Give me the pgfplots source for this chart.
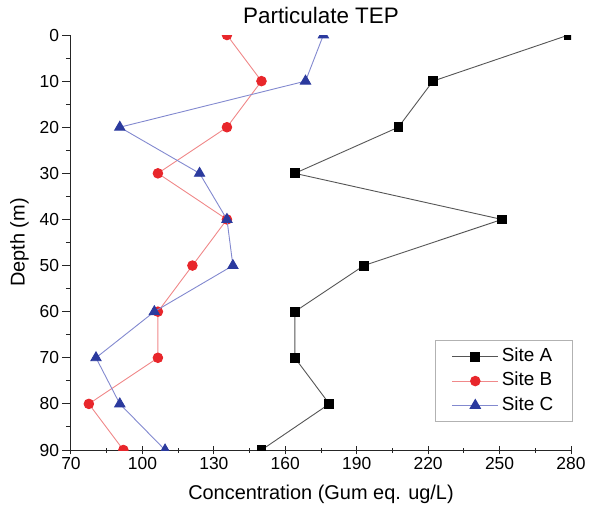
\documentclass[border=0pt]{standalone}
\usepackage{fontspec}
\setmainfont{Liberation Sans}
\usepackage{pgfplots}
\usepackage{pgfplotstable}
\pgfplotsset{compat=1.18}

\definecolor{siteAline}{HTML}{555555}
\definecolor{siteBmark}{HTML}{E8262B}
\definecolor{siteBline}{HTML}{F0898A}
\definecolor{siteCmark}{HTML}{2B3A9E}
\definecolor{siteCline}{HTML}{8289CF}

% Particulate TEP concentration profiles (Gum eq. ug/L) against depth (m)
\pgfplotstableread{
depth A     B     C
0     279   135.5 176
10    222   150   168.5
20    207.5 135.5 90.5
30    164   106.5 124
40    251   135.5 135.5
50    193   121   138
60    164   106.5 105
70    164   106.5 80.5
80    178.5 77.5  90.5
90    150   92    109.5
}\tep

\begin{document}
\begin{tikzpicture}
\useasboundingbox (-71bp,-59bp) rectangle (520bp,450bp);
\begin{axis}[
  at={(0,0)}, anchor=south west,
  scale only axis, width=500bp, height=415bp,
  xmin=70, xmax=280, ymin=0, ymax=90, y dir=reverse,
  axis x line=bottom, axis y line=left,
  axis line style={-, line width=1bp, black!85},
  xtick={70,100,...,280}, minor x tick num=1,
  ytick={0,10,...,90}, minor y tick num=1,
  xtick align=center, ytick align=outside,
  major tick length=8.5bp, minor tick length=5bp,
  every tick/.style={line width=1bp, black!85},
  /pgf/number format/assume math mode=true,
  ticklabel style={font=\fontsize{17.5}{17.5}\selectfont},
  clip marker paths=true,
  title={Particulate TEP},
  title style={font=\fontsize{22.5}{22.5}\selectfont, at={(axis description cs:0.5,1)}, anchor=base, yshift=5.7bp},
  xlabel={Concentration (Gum eq. ug/L)},
  xlabel style={font=\fontsize{20}{20}\selectfont, at={(axis description cs:0.5,0)}, anchor=base, yshift=-49.3bp},
  ylabel={Depth (m)},
  ylabel style={font=\fontsize{20}{20}\selectfont, at={(axis description cs:0,0.5)}, anchor=center, yshift=51.5bp},
  legend style={at={(axis description cs:1,0)}, anchor=south east, xshift=1.7bp, yshift=28bp,
    draw=gray!60, line width=0.8bp, inner xsep=16bp, inner ysep=4.5bp,
    font=\fontsize{19}{19}\selectfont,
    nodes={inner sep=3bp, text height=13.5bp, text depth=4bp},
    row sep=0.8bp},
  legend cell align=left,
  legend image code/.code={\draw[mark repeat=2, mark phase=2, #1] plot coordinates {(0bp,0bp) (23bp,0bp) (46bp,0bp)};},
]
\addplot[color=siteAline, line width=0.9bp, mark=square*, mark size=4.4bp,
  mark options={draw=black, fill=black, solid}] table[x=A, y=depth] {\tep};
\addlegendentry{Site A}
\addplot[color=siteBline, line width=0.9bp, mark=*, mark size=4.8bp,
  mark options={draw=siteBmark, fill=siteBmark, solid}] table[x=B, y=depth] {\tep};
\addlegendentry{Site B}
\addplot[color=siteCline, line width=0.9bp, mark=triangle*, mark size=5.9bp,
  mark options={draw=siteCmark, fill=siteCmark, solid}] table[x=C, y=depth] {\tep};
\addlegendentry{Site C}
\end{axis}
\end{tikzpicture}
\end{document}
